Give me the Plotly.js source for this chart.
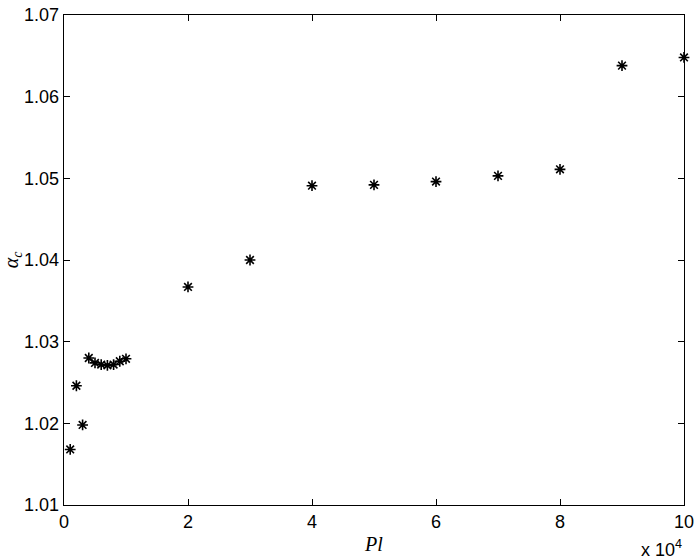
<!DOCTYPE html>
<html>
<head>
<meta charset="utf-8">
<script src="https://cdn.plot.ly/plotly-3.0.1.min.js"></script>
<style>
  html, body { margin: 0; padding: 0; background: #fff; }
  #chart { width: 700px; height: 559px; }
</style>
</head>
<body>
<div id="chart"></div>
<script>
// Pl values and critical alpha
const plValues = [1000, 2000, 3000, 4000, 5000, 6000, 7000, 8000, 9000, 10000,
                  20000, 30000, 40000, 50000, 60000, 70000, 80000, 90000, 100000];
const alphaC = [1.0168, 1.0246, 1.0198, 1.0280, 1.0274, 1.0272, 1.0271, 1.0272, 1.0276, 1.0279,
                1.0367, 1.0400, 1.0491, 1.0492, 1.0496, 1.0503, 1.0511, 1.0638, 1.0648];

const xTickVals = [0, 20000, 40000, 60000, 80000, 100000];
const xTickText = ['0', '2', '4', '6', '8', '10'];
const yTickVals = [1.01, 1.02, 1.03, 1.04, 1.05, 1.06, 1.07];
const yTickText = ['1.01', '1.02', '1.03', '1.04', '1.05', '1.06', '1.07'];

const tickFont = { family: 'Liberation Sans, Arial, sans-serif', size: 18, color: '#000' };

const trace = {
    x: plValues,
    y: alphaC,
    type: 'scatter',
    mode: 'markers',
    marker: {
        symbol: 'asterisk-open',
        size: 9,
        color: '#000',
        line: { color: '#000', width: 1.6 }
    },
    cliponaxis: false,
    hoverinfo: 'x+y'
};

const layout = {
    width: 700,
    height: 559,
    margin: { l: 64, r: 16, t: 15, b: 54 },
    paper_bgcolor: '#fff',
    plot_bgcolor: '#fff',
    showlegend: false,
    xaxis: {
        range: [0, 100000],
        tickvals: xTickVals,
        ticktext: xTickText,
        ticks: 'inside',
        ticklen: 6,
        tickcolor: '#000',
        showline: true,
        linecolor: '#000',
        linewidth: 1.3,
        mirror: 'ticks',
        showgrid: false,
        zeroline: false,
        tickfont: tickFont,
        title: {
            text: '<i>Pl</i>',
            font: { family: 'Liberation Serif, Times New Roman, serif', size: 20, color: '#000' },
            standoff: 6
        }
    },
    yaxis: {
        range: [1.01, 1.07],
        tickvals: yTickVals,
        ticktext: yTickText,
        ticks: 'inside',
        ticklen: 6,
        tickcolor: '#000',
        showline: true,
        linecolor: '#000',
        linewidth: 1.3,
        mirror: 'ticks',
        showgrid: false,
        zeroline: false,
        tickfont: tickFont,
        title: {
            text: '<i>α<sub>c</sub></i>',
            font: { family: 'Liberation Serif, Times New Roman, serif', size: 20, color: '#000' },
            standoff: 4
        }
    },
    annotations: [{
        xref: 'paper', yref: 'paper',
        x: 1.0, y: 0,
        xanchor: 'right', yanchor: 'top',
        yshift: -30,
        showarrow: false,
        text: 'x 10<sup>4</sup>',
        font: tickFont
    }]
};

Plotly.newPlot('chart', [trace], layout, { staticPlot: true });
</script>
</body>
</html>
